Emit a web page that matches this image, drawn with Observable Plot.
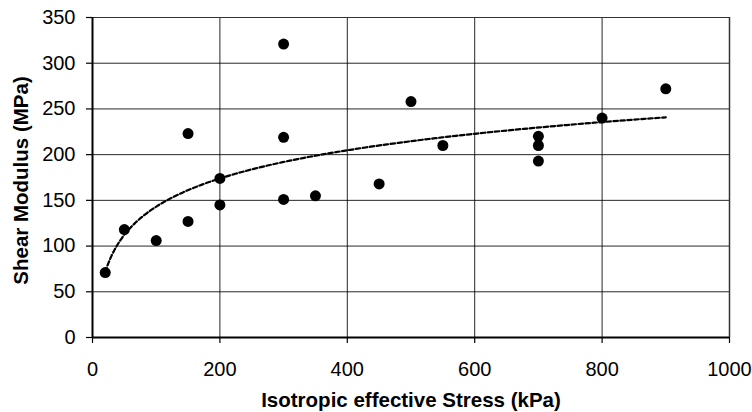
<!DOCTYPE html>
<html>
<head>
<meta charset="utf-8">
<script src="https://cdn.jsdelivr.net/npm/d3@7"></script>
<script src="https://cdn.jsdelivr.net/npm/@observablehq/plot@0.6"></script>
<style>
  html, body { margin: 0; padding: 0; background: #fff; }
  #chart svg { display: block; }
</style>
</head>
<body>
<div id="chart"></div>
<script>
// Data
const stress = [20, 50, 100, 150, 150, 200, 200, 300, 300, 300, 350, 450, 500, 550, 700, 700, 700, 800, 900];
const modulus = [71, 118, 106, 127, 223, 174, 145, 321, 219, 151, 155, 168, 258, 210, 220, 210, 193, 240, 272];
const xTicks = [0, 200, 400, 600, 800, 1000];
const yTicks = [0, 50, 100, 150, 200, 250, 300, 350];
const xLabel = "Isotropic effective Stress (kPa)";
const yLabel = "Shear Modulus (MPa)";

const points = stress.map((s, i) => ({s, g: modulus[i]}));

// Logarithmic trendline (least squares of G on ln(stress)), as in the original
const L = stress.map(Math.log);
const mL = d3.mean(L), mG = d3.mean(modulus);
const slope = d3.sum(L, (l, i) => (l - mL) * (modulus[i] - mG)) / d3.sum(L, l => (l - mL) ** 2);
const intercept = mG - slope * mL;
const xMin = d3.min(stress), xMax = d3.max(stress);
const trend = d3.range(0, 201).map(k => {
  const s = xMin * Math.pow(xMax / xMin, k / 200);
  return {s, g: intercept + slope * Math.log(s)};
});

const font = "'Liberation Sans', Arial, sans-serif";

const chart = Plot.plot({
  width: 752,
  height: 412,
  marginLeft: 92,
  marginRight: 23,
  marginTop: 17,
  marginBottom: 75,
  style: {fontFamily: font, fontSize: "20px", color: "#000", background: "#fff"},
  x: {domain: [0, 1000]},
  y: {domain: [0, 350]},
  marks: [
    Plot.gridX(xTicks.filter(d => d > 0 && d < 1000), {stroke: "#000", strokeOpacity: 0.85, strokeWidth: 1}),
    Plot.gridY(yTicks.filter(d => d > 0 && d < 350), {stroke: "#000", strokeOpacity: 0.85, strokeWidth: 1}),
    Plot.ruleY([350], {stroke: "#333", strokeWidth: 1.2}),
    Plot.ruleX([1000], {stroke: "#333", strokeWidth: 1.5}),
    Plot.ruleX([0], {stroke: "#000", strokeWidth: 2}),
    Plot.ruleY([0], {stroke: "#000", strokeWidth: 2}),
    Plot.axisX(xTicks, {tickSize: 6, tickPadding: 18, fontSize: 20, tickFormat: d => String(d), label: null, stroke: "#000", strokeWidth: 1.2}),
    Plot.axisY(yTicks, {tickSize: 6, tickPadding: 11, fontSize: 20, tickFormat: d => String(d), label: null, stroke: "#000", strokeWidth: 1.2}),
    Plot.line(trend, {x: "s", y: "g", stroke: "#000", strokeWidth: 2.2, strokeDasharray: "4.5,2.5"}),
    Plot.dot(points, {x: "s", y: "g", r: 5.5, fill: "#000", stroke: "none"}),
    Plot.text([xLabel], {frameAnchor: "bottom", dy: 62.5, lineAnchor: "middle", textAnchor: "middle", fontWeight: "bold", fontSize: 20.5, fill: "#000"}),
    Plot.text([yLabel], {frameAnchor: "left", dx: -71, dy: 3, rotate: -90, lineAnchor: "middle", textAnchor: "middle", fontWeight: "bold", fontSize: 20.5, fill: "#000"})
  ]
});

document.getElementById("chart").appendChild(chart);
</script>
</body>
</html>
